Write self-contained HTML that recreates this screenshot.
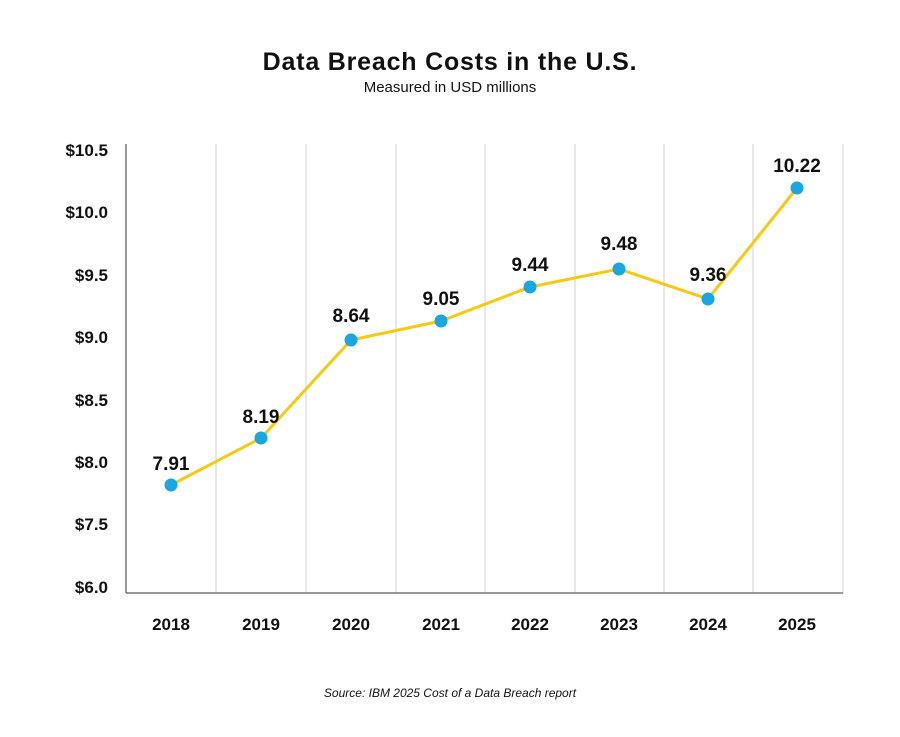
<!DOCTYPE html>
<html><head><meta charset="utf-8"><style>
body{margin:0;background:#fff;}
svg text{font-family:"Liberation Sans",sans-serif;fill:#111;}
</style></head><body>
<svg width="900" height="732" viewBox="0 0 900 732" xmlns="http://www.w3.org/2000/svg">
<rect width="900" height="732" fill="#fff"/>
<text x="450" y="70" text-anchor="middle" font-size="25" font-weight="bold" letter-spacing="0.8">Data Breach Costs in the U.S.</text>
<text x="450" y="92" text-anchor="middle" font-size="15">Measured in USD millions</text>
<g stroke="#d0d0d0" stroke-width="1">
<line x1="216" y1="144" x2="216" y2="593"/><line x1="306" y1="144" x2="306" y2="593"/>
<line x1="396" y1="144" x2="396" y2="593"/><line x1="485" y1="144" x2="485" y2="593"/>
<line x1="575" y1="144" x2="575" y2="593"/><line x1="664" y1="144" x2="664" y2="593"/>
<line x1="753" y1="144" x2="753" y2="593"/><line x1="843" y1="144" x2="843" y2="593"/>
</g>
<line x1="126" y1="144" x2="126" y2="593" stroke="#777" stroke-width="1.5"/>
<line x1="126" y1="593" x2="843" y2="593" stroke="#777" stroke-width="1.5"/>
<g font-size="17" font-weight="bold" text-anchor="end">
<text x="108" y="156">$10.5</text><text x="108" y="218">$10.0</text>
<text x="108" y="281">$9.5</text><text x="108" y="343">$9.0</text>
<text x="108" y="406">$8.5</text><text x="108" y="468">$8.0</text>
<text x="108" y="530">$7.5</text><text x="108" y="593">$6.0</text>
</g>
<g font-size="17" font-weight="bold" text-anchor="middle">
<text x="171" y="630">2018</text><text x="261" y="630">2019</text>
<text x="351" y="630">2020</text><text x="441" y="630">2021</text>
<text x="530" y="630">2022</text><text x="619" y="630">2023</text>
<text x="708" y="630">2024</text><text x="797" y="630">2025</text>
</g>
<polyline points="171,485 261,438 351,340 441,321 530,287 619,269 708,299 797,188" fill="none" stroke="#f7c913" stroke-width="3"/>
<g fill="#1aa6e0">
<circle cx="171" cy="485" r="6.5"/><circle cx="261" cy="438" r="6.5"/>
<circle cx="351" cy="340" r="6.5"/><circle cx="441" cy="321" r="6.5"/>
<circle cx="530" cy="287" r="6.5"/><circle cx="619" cy="269" r="6.5"/>
<circle cx="708" cy="299" r="6.5"/><circle cx="797" cy="188" r="6.5"/>
</g>
<g font-size="19" font-weight="bold" text-anchor="middle">
<text x="171" y="470">7.91</text><text x="261" y="423">8.19</text>
<text x="351" y="322">8.64</text><text x="441" y="305">9.05</text>
<text x="530" y="271">9.44</text><text x="619" y="250">9.48</text>
<text x="708" y="281">9.36</text><text x="797" y="172">10.22</text>
</g>
<text x="450" y="697" text-anchor="middle" font-size="12" font-style="italic">Source: IBM 2025 Cost of a Data Breach report</text>
</svg>
</body></html>
